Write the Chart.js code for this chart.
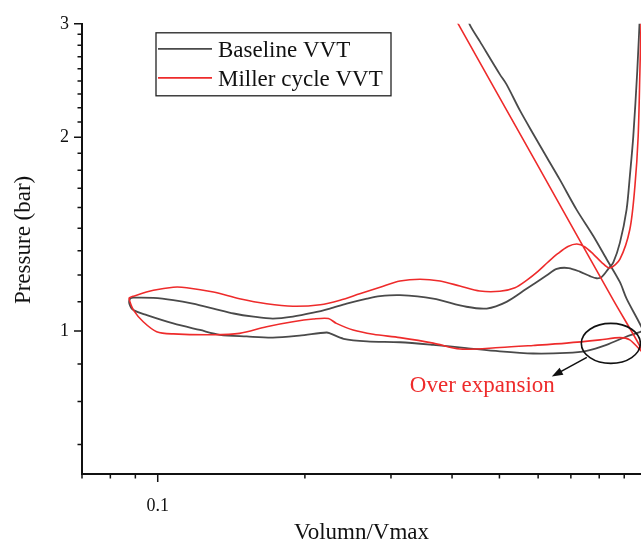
<!DOCTYPE html>
<html>
<head>
<meta charset="utf-8">
<script src="https://cdn.jsdelivr.net/npm/chart.js@4.4.0/dist/chart.umd.min.js"></script>
<style>
  html, body { margin: 0; padding: 0; background: #fff; overflow: hidden; }
  #wrap { position: relative; width: 641px; height: 544px; }
</style>
</head>
<body>
<div id="wrap"><canvas id="pv" width="641" height="544"></canvas></div>
<script>
// Baseline VVT pumping loop: blowdown, exhaust stroke, intake stroke, compression
const baselineVolume = [0.971, 0.957, 0.939, 0.924, 0.910, 0.882, 0.855, 0.835, 0.809, 0.790, 0.766, 0.730, 0.692, 0.655, 0.624, 0.568, 0.517, 0.471, 0.428, 0.366, 0.313, 0.285, 0.268, 0.2435, 0.225, 0.208, 0.189, 0.172, 0.157, 0.143, 0.130, 0.118, 0.1076, 0.0980, 0.0892, 0.0878, 0.0875, 0.0892, 0.0950, 0.1076, 0.122, 0.134, 0.152, 0.172, 0.195, 0.2216, 0.225, 0.240, 0.268, 0.313, 0.366, 0.428, 0.501, 0.586, 0.686, 0.754, 0.828, 0.910, 0.973, 0.985, 0.910, 0.882, 0.828, 0.778, 0.719, 0.665, 0.624, 0.586, 0.551, 0.517, 0.501, 0.456, 0.435, 0.425];
const baselinePressure = [3.21, 2.534, 2.001, 1.738, 1.544, 1.372, 1.279, 1.249, 1.213, 1.208, 1.217, 1.237, 1.253, 1.249, 1.220, 1.163, 1.110, 1.084, 1.091, 1.123, 1.137, 1.133, 1.123, 1.103, 1.084, 1.068, 1.053, 1.046, 1.053, 1.065, 1.084, 1.103, 1.117, 1.126, 1.127, 1.123, 1.103, 1.078, 1.059, 1.028, 1.004, 0.987, 0.981, 0.977, 0.984, 0.995, 0.992, 0.973, 0.964, 0.961, 0.952, 0.941, 0.930, 0.923, 0.925, 0.932, 0.952, 0.981, 0.998, 1.0, 1.123, 1.191, 1.294, 1.405, 1.544, 1.717, 1.865, 2.025, 2.199, 2.416, 2.504, 2.817, 2.988, 3.15];

// Miller cycle VVT pumping loop (early intake closing, over-expansion near BDC)
const millerVolume = [0.976, 0.969, 0.961, 0.9465, 0.924, 0.882, 0.841, 0.809, 0.778, 0.748, 0.720, 0.6905, 0.659, 0.628, 0.5995, 0.569, 0.538, 0.501, 0.456, 0.415, 0.378, 0.344, 0.313, 0.285, 0.259, 0.236, 0.215, 0.189, 0.167, 0.147, 0.130, 0.1146, 0.1076, 0.0980, 0.0892, 0.0875, 0.0875, 0.0892, 0.0934, 0.0995, 0.1076, 0.130, 0.147, 0.167, 0.189, 0.208, 0.2234, 0.232, 0.251, 0.276, 0.313, 0.366, 0.415, 0.501, 0.586, 0.686, 0.803, 0.882, 0.924, 0.983, 0.855, 0.591, 0.412, 0.400];
const millerPressure = [3.21, 2.531, 2.004, 1.679, 1.438, 1.294, 1.253, 1.279, 1.317, 1.351, 1.365, 1.353, 1.320, 1.279, 1.238, 1.200, 1.168, 1.153, 1.154, 1.175, 1.196, 1.204, 1.196, 1.170, 1.143, 1.117, 1.099, 1.093, 1.103, 1.123, 1.150, 1.168, 1.170, 1.157, 1.133, 1.126, 1.117, 1.078, 1.034, 0.998, 0.990, 0.987, 0.992, 1.016, 1.034, 1.044, 1.046, 1.028, 1.004, 0.989, 0.977, 0.958, 0.938, 0.943, 0.950, 0.958, 0.969, 0.977, 0.969, 0.927, 1.117, 1.841, 2.996, 3.118];

// Axis ticks
const pressureTickLabels = [1, 2, 3];
const pressureMinorTicks = [1 - 3/9, 1 - 2/9, 1 - 1/9,
  1 + 1/9, 1 + 2/9, 1 + 3/9, 1 + 4/9, 1 + 5/9, 1 + 6/9, 1 + 7/9, 1 + 8/9,
  2 + 1/9, 2 + 2/9, 2 + 3/9, 2 + 4/9, 2 + 5/9, 2 + 6/9, 2 + 7/9, 2 + 8/9];
const volumeTickLabels = [0.1];
const volumeMinorTicks = [0.07, 0.08, 0.09, 0.2, 0.3, 0.4, 0.5, 0.6, 0.7, 0.8, 0.9];

// Annotation anchor (centre of the over-expansion ellipse)
const overExpansionPoint = { x: 0.845, y: 0.957 };

const seriesNames = ['Baseline VVT', 'Miller cycle VVT'];
const seriesColors = ['#4a4a4a', '#ee2b2b'];

const FONT = "'Liberation Serif', 'Times New Roman', serif";
const INK = '#111111';

function toPoints(xs, ys) {
  return xs.map((v, i) => ({ x: v, y: ys[i] }));
}

// Tick marks (long majors, short minors, pointing outward)
const tickMarks = {
  id: 'tickMarks',
  afterDraw(chart) {
    const { ctx, chartArea: a, scales: { x, y } } = chart;
    ctx.save();
    ctx.strokeStyle = INK;
    ctx.lineWidth = 1.5;
    ctx.beginPath();
    pressureTickLabels.forEach(v => {
      const p = y.getPixelForValue(v);
      ctx.moveTo(a.left, p); ctx.lineTo(a.left - 8, p);
    });
    pressureMinorTicks.forEach(v => {
      const p = y.getPixelForValue(v);
      ctx.moveTo(a.left, p); ctx.lineTo(a.left - 4.5, p);
    });
    volumeTickLabels.forEach(v => {
      const p = x.getPixelForValue(v);
      ctx.moveTo(p, a.bottom); ctx.lineTo(p, a.bottom + 8);
    });
    volumeMinorTicks.forEach(v => {
      const p = x.getPixelForValue(v);
      ctx.moveTo(p, a.bottom); ctx.lineTo(p, a.bottom + 4.5);
    });
    ctx.stroke();
    ctx.restore();
  }
};

// Framed legend inside the plot, upper left
const boxLegend = {
  id: 'boxLegend',
  afterDraw(chart) {
    const { ctx, chartArea: a } = chart;
    const left = a.left + 74, top = a.top + 9, w = 235, h = 63;
    ctx.save();
    ctx.strokeStyle = '#222';
    ctx.lineWidth = 1.3;
    ctx.strokeRect(left, top, w, h);
    ctx.font = '23px ' + FONT;
    ctx.textBaseline = 'alphabetic';
    ctx.textAlign = 'left';
    const rows = [16, 45];
    chart.data.datasets.forEach((ds, i) => {
      const ry = top + rows[i];
      ctx.strokeStyle = ds.borderColor;
      ctx.lineWidth = 1.7;
      ctx.beginPath();
      ctx.moveTo(left + 2, ry);
      ctx.lineTo(left + 56, ry);
      ctx.stroke();
      ctx.fillStyle = INK;
      ctx.fillText(ds.label, left + 62, ry + 8.3);
    });
    ctx.restore();
  }
};

// Ellipse around the over-expansion region, arrow and caption
const overExpansionNote = {
  id: 'overExpansionNote',
  afterDraw(chart) {
    const { ctx, scales: { x, y } } = chart;
    const cx = x.getPixelForValue(overExpansionPoint.x);
    const cy = y.getPixelForValue(overExpansionPoint.y);
    ctx.save();
    ctx.strokeStyle = INK;
    ctx.lineWidth = 1.6;
    ctx.beginPath();
    ctx.ellipse(cx, cy, 29.5, 20, 0, 0, Math.PI * 2);
    ctx.stroke();
    // arrow
    const x0 = cx - 24, y0 = cy + 14, x1 = cx - 59, y1 = cy + 33;
    const ang = Math.atan2(y1 - y0, x1 - x0);
    ctx.beginPath();
    ctx.moveTo(x0, y0);
    ctx.lineTo(x1 - 8 * Math.cos(ang), y1 - 8 * Math.sin(ang));
    ctx.stroke();
    ctx.fillStyle = INK;
    ctx.beginPath();
    ctx.moveTo(x1, y1);
    ctx.lineTo(x1 - 11 * Math.cos(ang) + 4 * Math.sin(ang), y1 - 11 * Math.sin(ang) - 4 * Math.cos(ang));
    ctx.lineTo(x1 - 11 * Math.cos(ang) - 4 * Math.sin(ang), y1 - 11 * Math.sin(ang) + 4 * Math.cos(ang));
    ctx.closePath();
    ctx.fill();
    // caption
    ctx.fillStyle = seriesColors[1];
    ctx.font = '23px ' + FONT;
    ctx.textAlign = 'left';
    ctx.textBaseline = 'alphabetic';
    ctx.fillText('Over expansion', cx - 201, cy + 48.5);
    ctx.restore();
  }
};

// Rotated y-axis title
const pressureTitle = {
  id: 'pressureTitle',
  afterDraw(chart) {
    const { ctx, chartArea: a } = chart;
    ctx.save();
    ctx.translate(24, (a.top + a.bottom) / 2 - 9);
    ctx.rotate(-Math.PI / 2);
    ctx.font = '23px ' + FONT;
    ctx.fillStyle = INK;
    ctx.textAlign = 'center';
    ctx.textBaseline = 'middle';
    ctx.fillText('Pressure (bar)', 0, 0);
    ctx.restore();
  }
};

new Chart(document.getElementById('pv'), {
  type: 'scatter',
  data: {
    datasets: [
      {
        label: seriesNames[0],
        data: toPoints(baselineVolume, baselinePressure),
        showLine: true,
        borderColor: seriesColors[0],
        borderWidth: 1.8,
        pointRadius: 0,
        tension: 0.3,
        fill: false,
        order: 2
      },
      {
        label: seriesNames[1],
        data: toPoints(millerVolume, millerPressure),
        showLine: true,
        borderColor: seriesColors[1],
        borderWidth: 1.6,
        pointRadius: 0,
        tension: 0.3,
        fill: false,
        order: 1
      }
    ]
  },
  options: {
    responsive: false,
    animation: false,
    devicePixelRatio: 1,
    layout: { padding: { top: 19, right: 0, bottom: 0, left: 0 } },
    plugins: {
      legend: { display: false },
      tooltip: { enabled: false }
    },
    scales: {
      x: {
        type: 'logarithmic',
        min: 0.07,
        max: 0.974,
        afterBuildTicks: s => { s.ticks = volumeTickLabels.map(v => ({ value: v, major: true })); },
        afterFit: s => { s.height = 70; },
        grid: { display: false, drawTicks: false },
        border: { display: true, color: INK, width: 2 },
        ticks: {
          autoSkip: false,
          maxRotation: 0,
          padding: 21,
          color: INK,
          font: { family: FONT, size: 18 },
          callback: v => String(v)
        },
        title: {
          display: true,
          text: 'Volumn/Vmax',
          color: INK,
          font: { family: FONT, size: 23, lineHeight: 1 },
          padding: { top: 0, bottom: 0 }
        }
      },
      y: {
        type: 'logarithmic',
        min: 0.6,
        max: 3,
        afterBuildTicks: s => { s.ticks = pressureTickLabels.map(v => ({ value: v, major: true })); },
        afterFit: s => { s.width = 82; },
        grid: { display: false, drawTicks: false },
        border: { display: true, color: INK, width: 2 },
        ticks: {
          autoSkip: false,
          padding: 13,
          color: INK,
          font: { family: FONT, size: 18 },
          callback: v => String(v)
        }
      }
    }
  },
  plugins: [tickMarks, boxLegend, overExpansionNote, pressureTitle]
});
</script>
</body>
</html>
